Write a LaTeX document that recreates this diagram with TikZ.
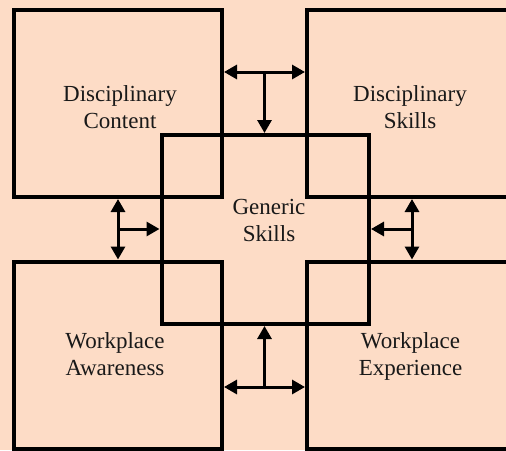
\documentclass[tikz,border=0pt]{standalone}
\usepackage{fontspec}
\setmainfont{Liberation Serif}
\usetikzlibrary{arrows.meta}
\definecolor{peach}{RGB}{253,220,198}
\tikzset{
  area/.style={draw=black, line width=4pt, minimum width=208pt, minimum height=187pt, inner sep=0pt},
  core/.style={draw=black, line width=4pt, minimum width=207.5pt, minimum height=189pt, inner sep=0pt},
  caption/.style={anchor=north, align=center, inner sep=0pt,
    font=\fontsize{23pt}{27.5pt}\selectfont, text=black!90},
  link/.style={line width=3pt, -{Triangle[length=13pt,width=14pt]}},
  twoway/.style={line width=3pt, {Triangle[length=13pt,width=14pt]}-{Triangle[length=13pt,width=14pt]}}
}
\begin{document}
\begin{tikzpicture}[x=1pt,y=-1pt]
  \useasboundingbox (0,0) rectangle (506,450);
  \fill[peach] (0,0) rectangle (506,450);
  \begin{scope}
    \clip (0,0) rectangle (506,450);
    % four outer areas and the central one
    \node[area] (TL) at (118,103.5) {};
    \node[area] (TR) at (411,103.5) {};
    \node[area] (BL) at (118,355) {};
    \node[area] (BR) at (411,355) {};
    \node[core] (G) at (265.25,229.5) {};

    % labels
    \node[caption] (tlt) at (120,85) {Disciplinary\\Content};
    \node[caption] (trt) at (410,85) {Disciplinary\\Skills};
    \node[caption] (blt) at (115,332) {Workplace\\Awareness};
    \node[caption] (brt) at (410.5,332) {Workplace\\Experience};
    \node[caption] (gt) at (269,199) {Generic\\Skills};

    % junction points of the connectors
    \coordinate (tj) at (264.5,72);
    \coordinate (lj) at (118,229);
    \coordinate (rj) at (412,229);
    \coordinate (bj) at (264.5,387);

    % top
    \draw[twoway] (tj -| TL.east) -- (tj -| TR.west);
    \draw[link] (tj) -- (tj |- G.north);
    % left
    \draw[twoway] (lj |- TL.south) -- (lj |- BL.north);
    \draw[link] (lj) -- (lj -| G.west);
    % right
    \draw[twoway] (rj |- TR.south) -- (rj |- BR.north);
    \draw[link] (rj) -- (rj -| G.east);
    % bottom
    \draw[twoway] (bj -| BL.east) -- (bj -| BR.west);
    \draw[link] (bj) -- (bj |- G.south);
  \end{scope}
\end{tikzpicture}
\end{document}
